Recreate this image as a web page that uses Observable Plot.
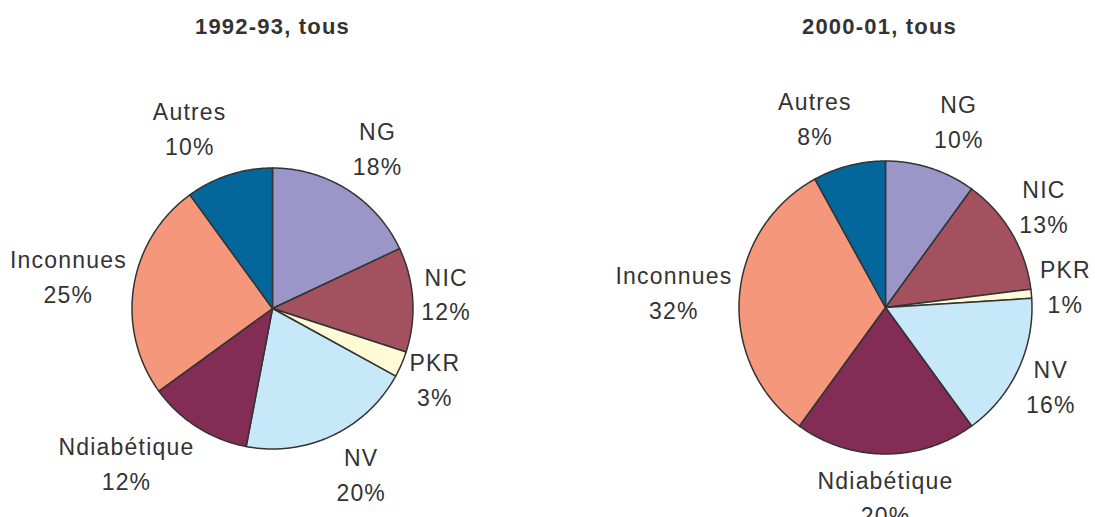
<!DOCTYPE html>
<html>
<head>
<meta charset="utf-8">
<script src="https://cdn.jsdelivr.net/npm/d3@7"></script>
<script src="https://cdn.jsdelivr.net/npm/@observablehq/plot@0.6"></script>
<style>
  html, body { margin: 0; padding: 0; background: #ffffff; }
  #chart svg { display: block; }
</style>
</head>
<body>
<div id="chart"></div>
<script>
// ---- data ----
const categories = ["NG", "NIC", "PKR", "NV", "Ndiabétique", "Inconnues", "Autres"];
const values1992 = [18, 12, 3, 20, 12, 25, 10];
const values2000 = [10, 13, 1, 16, 20, 32, 8];
const chartTitles = ["1992-93, tous", "2000-01, tous"];

// ---- style / layout ----
const sliceColors = ["#9b96c8", "#a4515f", "#fffbd6", "#c7e8f8", "#822c56", "#f4977a", "#03679b"];
const pieLayout = [
  { cx: 272, cy: 308, r: 140.5, titleX: 272 },
  { cx: 885, cy: 307, r: 146.5, titleX: 879 }
];
const W = 1095, H = 517;
const FONT = "'Liberation Sans', Arial, Helvetica, sans-serif";
const FS = 23, LS = 1.2, TEXT = "#333333";

const series = [values1992, values2000];
const ctx = document.createElement("canvas").getContext("2d");
ctx.font = `${FS}px 'Liberation Sans'`;
const textW = s => ctx.measureText(s).width + LS * s.length;

const slicePts = [];
const labels = [];
series.forEach((vals, p) => {
  const L = pieLayout[p];
  const total = d3.sum(vals);
  let acc = 0;
  vals.forEach((v, i) => {
    const a0 = acc / total * 2 * Math.PI;
    const a1 = (acc + v) / total * 2 * Math.PI;
    acc += v;
    const key = p + "-" + categories[i];
    slicePts.push({ key, cat: categories[i], x: L.cx, y: L.cy });
    const n = Math.max(2, Math.ceil((a1 - a0) / (Math.PI / 360)));
    for (let k = 0; k <= n; k++) {
      const a = a0 + (a1 - a0) * k / n;
      slicePts.push({ key, cat: categories[i], x: L.cx + L.r * Math.sin(a), y: L.cy - L.r * Math.cos(a) });
    }
    const am = (a0 + a1) / 2, ux = Math.sin(am), uy = -Math.cos(am);
    const pct = `${Math.round(v / total * 100)}%`;
    const w = Math.max(textW(categories[i]), textW(pct));
    const fx = Math.max(-1, Math.min(1, ux * 3.5)) * 0.95;
    labels.push({
      text: categories[i] + "\n" + pct,
      x: L.cx + ux * (L.r + 8) + fx * (w / 2 + 2),
      y: L.cy + uy * (L.r + 12 + 34) - 5
    });
  });
});
const titleData = chartTitles.map((t, p) => ({ text: t, x: pieLayout[p].titleX, y: 26 }));

const chart = Plot.plot({
  width: W,
  height: H,
  margin: 0,
  x: { domain: [0, W], range: [0, W], axis: null },
  y: { domain: [0, H], range: [0, H], axis: null },
  color: { domain: categories, range: sliceColors },
  style: { fontFamily: FONT, letterSpacing: LS + "px", background: "#ffffff" },
  marks: [
    Plot.line(slicePts, {
      x: "x", y: "y", z: "key", fill: "cat",
      stroke: "#333333", strokeWidth: 1.5, strokeLinejoin: "round",
      curve: "linear-closed"
    }),
    Plot.text(labels, {
      x: "x", y: "y", text: "text",
      fontSize: FS, lineHeight: 1.52, fill: TEXT, fontFamily: FONT
    }),
    Plot.text(titleData, {
      x: "x", y: "y", text: "text",
      fontSize: 22, fontWeight: "bold", fill: TEXT, fontFamily: FONT
    })
  ]
});
document.getElementById("chart").appendChild(chart);
</script>
</body>
</html>
